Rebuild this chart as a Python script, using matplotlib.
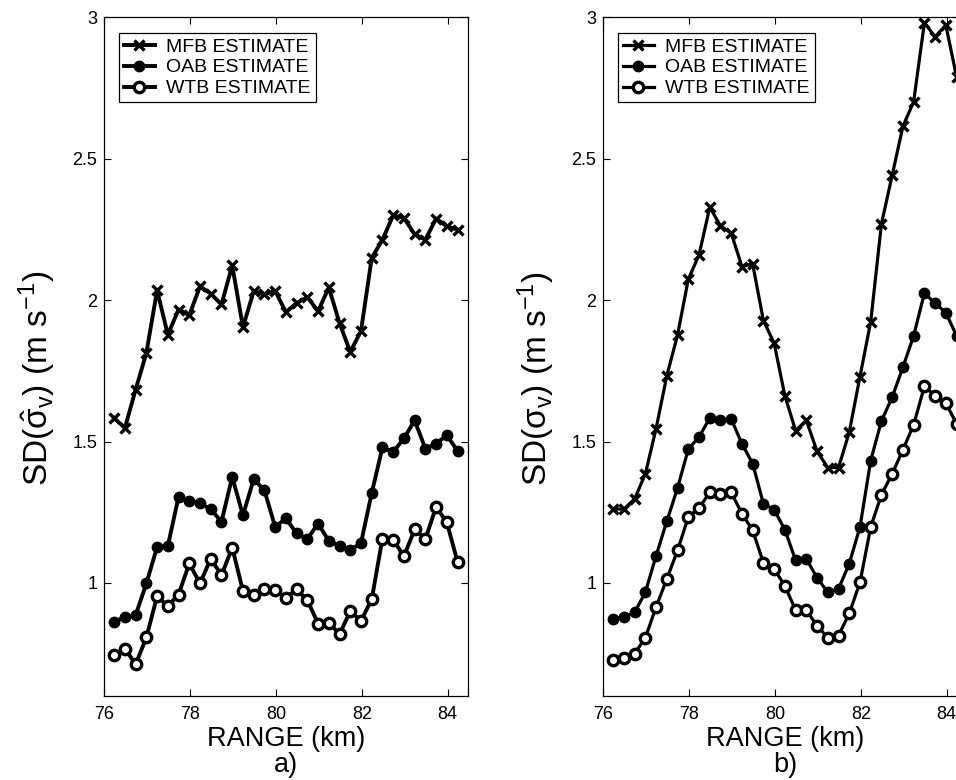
import matplotlib
matplotlib.use("Agg")
import matplotlib.pyplot as plt

plt.rcParams["font.family"] = ["Liberation Sans", "DejaVu Sans"]
plt.rcParams["mathtext.fontset"] = "custom"
plt.rcParams["mathtext.rm"] = "Liberation Sans"
plt.rcParams["mathtext.it"] = "Liberation Sans"
plt.rcParams["mathtext.bf"] = "Liberation Sans:bold"

# range gates (km)
range_km = [76.23, 76.48, 76.73, 76.98, 77.23, 77.48, 77.73, 77.98, 78.23, 78.48, 78.73,
            78.98, 79.23, 79.48, 79.73, 79.98, 80.23, 80.48, 80.73, 80.98, 81.23, 81.48,
            81.73, 81.98, 82.23, 82.48, 82.73, 82.98, 83.23, 83.48, 83.73, 83.98, 84.23]

# panel a) SD of estimated spectrum width
mfb_a = [1.583, 1.548, 1.684, 1.813, 2.035, 1.878, 1.967, 1.947, 2.049, 2.023, 1.985,
         2.123, 1.905, 2.031, 2.021, 2.033, 1.958, 1.990, 2.011, 1.961, 2.045, 1.919,
         1.817, 1.891, 2.149, 2.214, 2.300, 2.291, 2.233, 2.214, 2.289, 2.261, 2.250]
oab_a = [0.862, 0.880, 0.886, 0.998, 1.127, 1.131, 1.304, 1.290, 1.281, 1.261, 1.216,
         1.375, 1.239, 1.367, 1.328, 1.198, 1.228, 1.175, 1.155, 1.210, 1.149, 1.131,
         1.116, 1.141, 1.318, 1.479, 1.463, 1.511, 1.575, 1.475, 1.493, 1.522, 1.467]
wtb_a = [0.744, 0.768, 0.712, 0.807, 0.953, 0.918, 0.959, 1.069, 0.998, 1.086, 1.027,
         1.125, 0.972, 0.957, 0.977, 0.974, 0.947, 0.977, 0.939, 0.856, 0.859, 0.819,
         0.900, 0.866, 0.942, 1.157, 1.153, 1.094, 1.189, 1.155, 1.269, 1.214, 1.074]

# panel b) SD of true spectrum width
mfb_b = [1.261, 1.261, 1.297, 1.386, 1.546, 1.733, 1.877, 2.074, 2.160, 2.329, 2.263,
         2.237, 2.119, 2.128, 1.928, 1.848, 1.662, 1.539, 1.575, 1.465, 1.408, 1.408,
         1.533, 1.730, 1.924, 2.270, 2.442, 2.615, 2.702, 2.981, 2.932, 2.973, 2.790]
oab_b = [0.873, 0.880, 0.896, 0.967, 1.096, 1.218, 1.336, 1.473, 1.516, 1.583, 1.575,
         1.580, 1.492, 1.422, 1.280, 1.259, 1.188, 1.080, 1.085, 1.018, 0.967, 0.979,
         1.068, 1.198, 1.433, 1.573, 1.657, 1.763, 1.874, 2.025, 1.989, 1.956, 1.874]
wtb_b = [0.729, 0.735, 0.750, 0.806, 0.915, 1.014, 1.115, 1.233, 1.265, 1.320, 1.316,
         1.320, 1.245, 1.186, 1.071, 1.049, 0.990, 0.903, 0.903, 0.849, 0.806, 0.814,
         0.892, 1.002, 1.198, 1.312, 1.386, 1.471, 1.559, 1.695, 1.662, 1.636, 1.563]

labels = ["MFB ESTIMATE", "OAB ESTIMATE", "WTB ESTIMATE"]
xticks = [76, 78, 80, 82, 84]
yticks = [1, 1.5, 2, 2.5, 3]
yticklabels = ["1", "1.5", "2", "2.5", "3"]

fig = plt.figure(figsize=(9.56, 7.8), dpi=100)
W, H = 956, 780
ax_w, ax_h = 364 / W, (696 - 17.5) / H
ax_a = fig.add_axes([104.3 / W, 84 / H, ax_w, ax_h])
ax_b = fig.add_axes([603.3 / W, 84 / H, ax_w, ax_h])


def panel(ax, mfb, oab, wtb, lw, ylabel, tag):
    ax.plot(range_km, mfb, "k-x", lw=lw, ms=7.5, mew=2.4, label=labels[0])
    ax.plot(range_km, oab, "k-o", lw=lw, ms=7.5, mew=1, label=labels[1])
    ax.plot(range_km, wtb, "k-o", lw=lw, ms=7.5, mew=2.4, mfc="white", label=labels[2])
    ax.set_xlim(76, 84.48)
    ax.set_ylim(0.6, 3)
    ax.set_xticks(xticks)
    ax.set_yticks(yticks)
    ax.set_yticklabels(yticklabels)
    ax.tick_params(direction="in", top=True, right=True, length=5, width=0.8,
                   labelsize=13)
    ax.tick_params(axis="x", pad=7)
    ax.tick_params(axis="y", pad=5)
    for s in ax.spines.values():
        s.set_linewidth(0.9)
    ax.set_xlabel("RANGE (km)\n" + tag, fontsize=19.5, linespacing=1.05, labelpad=2)
    ax.set_ylabel(ylabel, fontsize=24)
    ax.yaxis.set_label_coords(-0.128, 0.468)
    leg = ax.legend(loc="upper left", bbox_to_anchor=(0.04, 0.977), numpoints=1,
                    fontsize=14, fancybox=False, framealpha=1, edgecolor="black",
                    handlelength=1.6, handletextpad=0.6, labelspacing=0.17,
                    borderpad=0.25, borderaxespad=0)
    leg.get_frame().set_linewidth(0.9)


panel(ax_a, mfb_a, oab_a, wtb_a, 2.8, r"SD($\hat{\sigma}_v$) (m s$^{-1}$)", "a)")
panel(ax_b, mfb_b, oab_b, wtb_b, 2.3, r"SD($\sigma_v$) (m s$^{-1}$)", "b)")

fig.savefig("out.png", dpi=100)
